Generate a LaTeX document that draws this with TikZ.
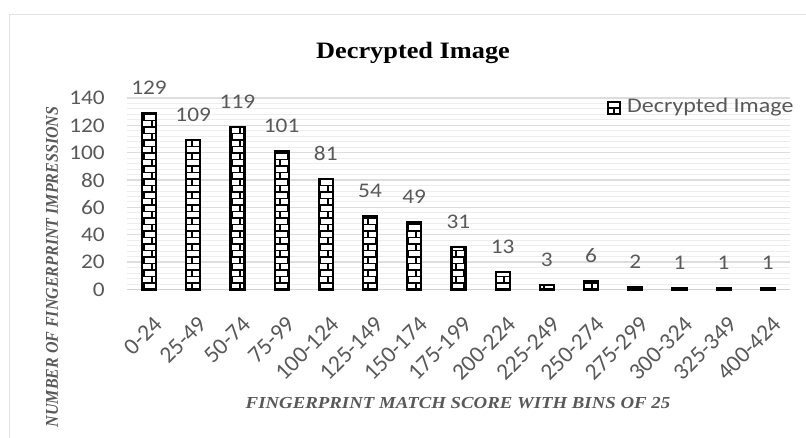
\documentclass[tikz,border=0pt]{standalone}
\usepackage{fontspec}
\setmainfont{Carlito}
\newfontfamily\serifbf{Liberation Serif}
\definecolor{txt}{HTML}{595959}
\begin{document}
\begin{tikzpicture}[x=1pt,y=-1pt,
  lab/.style={font=\fontsize{20.8}{24}\selectfont, text=txt, inner sep=0pt, xscale=1.12},
  catlab/.style={font=\fontsize{23.5}{27}\selectfont, text=txt, inner sep=0pt, rotate=45, anchor=north east},
  vlab/.style={lab, anchor=base},
  ticklab/.style={lab, anchor=east},
  ttl/.style={font=\serifbf\bfseries\fontsize{23.5}{28}\selectfont, inner sep=0pt, xscale=1.12, anchor=base},
  axt/.style={font=\serifbf\bfseries\itshape\fontsize{16}{19}\selectfont, text=txt, inner sep=0pt, xscale=1.12},
  minorgrid/.style={draw=gray!14, line width=0.9pt},
  majorgrid/.style={draw=gray!27, line width=1.3pt},
  basegrid/.style={draw=gray!35, line width=1.6pt},
  pat/.style={draw=black, line width=1.8pt},
  barline/.style={draw=black, line width=2.2pt},
  frame/.style={draw=gray!22, line width=1pt}]
\useasboundingbox (0,0) rectangle (806,438);
\fill[white] (0,0) rectangle (806,438);
\draw[frame] (9,15) rectangle (830,470);
% gridlines
\foreach \v in {0,4,...,140} \draw[minorgrid] (127,289.5-1.368*\v) -- (790,289.5-1.368*\v);
\foreach \v in {20,40,...,140} \draw[majorgrid] (127,289.5-1.368*\v) -- (790,289.5-1.368*\v);
\draw[basegrid] (127,289.5) -- (790,289.5);
% tick labels
\foreach \v in {0,20,...,140} \node[ticklab] (t\v) at (105,289.5-1.368*\v) {\v};
% bars
\foreach \v [count=\i from 0] in {129,109,119,101,81,54,49,31,13,3,6,2,1,1,1} {
  \pgfmathsetmacro\c{149+44.2*\i}
  \pgfmathsetmacro\t{289.5-1.368*\v}
  \pgfmathsetmacro\nr{int(ceil(1.368*\v/6.5))}
  \pgfmathsetmacro\xb{16*floor(\c/16)}
  \begin{scope}
    \clip (\c-7,\t) rectangle (\c+7,289.5);
    \fill[white] (\c-7,\t) rectangle (\c+7,289.5);
    \foreach \k in {0,...,\nr} {
      \pgfmathsetmacro\yy{289.5-6.5*\k}
      \pgfmathsetmacro\off{8*mod(\k,2)}
      \draw[pat] (\c-9,\yy) -- (\c+9,\yy);
      \foreach \m in {-1,0,1,2} {
        \draw[pat] (\xb+16*\m+\off,\yy) -- ++(0,-6.5);
      }
    }
  \end{scope}
  \draw[barline] (\c-7,\t) rectangle (\c+7,289.5);
  \node[vlab] (v\i) at (\c,\t-18.5) {\v};
}
% category labels
\foreach \l [count=\i from 0] in {0-24,25-49,50-74,75-99,100-124,125-149,150-174,175-199,200-224,225-249,250-274,275-299,300-324,325-349,400-424} {
  \pgfmathsetmacro\c{149+44.2*\i}
  \node[catlab] (c\i) at (\c+3.5,315) {\l};
}
% title
\node[ttl] (title) at (413,59) {Decrypted Image};
% axis titles
\node[axt, anchor=base, font=\serifbf\bfseries\itshape\fontsize{16.8}{19}\selectfont] (xtitle) at (458,408) {FINGERPRINT MATCH SCORE WITH BINS OF 25};
\node[axt, rotate=90] (ytitle) at (52,267) {NUMBER OF FINGERPRINT IMPRESSIONS};
% legend
\fill[black] (607,101) rectangle (621,115);
\fill[white] (609,103.5) rectangle (619,107);
\fill[white] (609,109) rectangle (613.2,113);
\fill[white] (614.8,109) rectangle (619,113);
\node[lab, anchor=base west, xscale=1.03] (leg) at (627,113) {Decrypted Image};
\end{tikzpicture}
\end{document}
